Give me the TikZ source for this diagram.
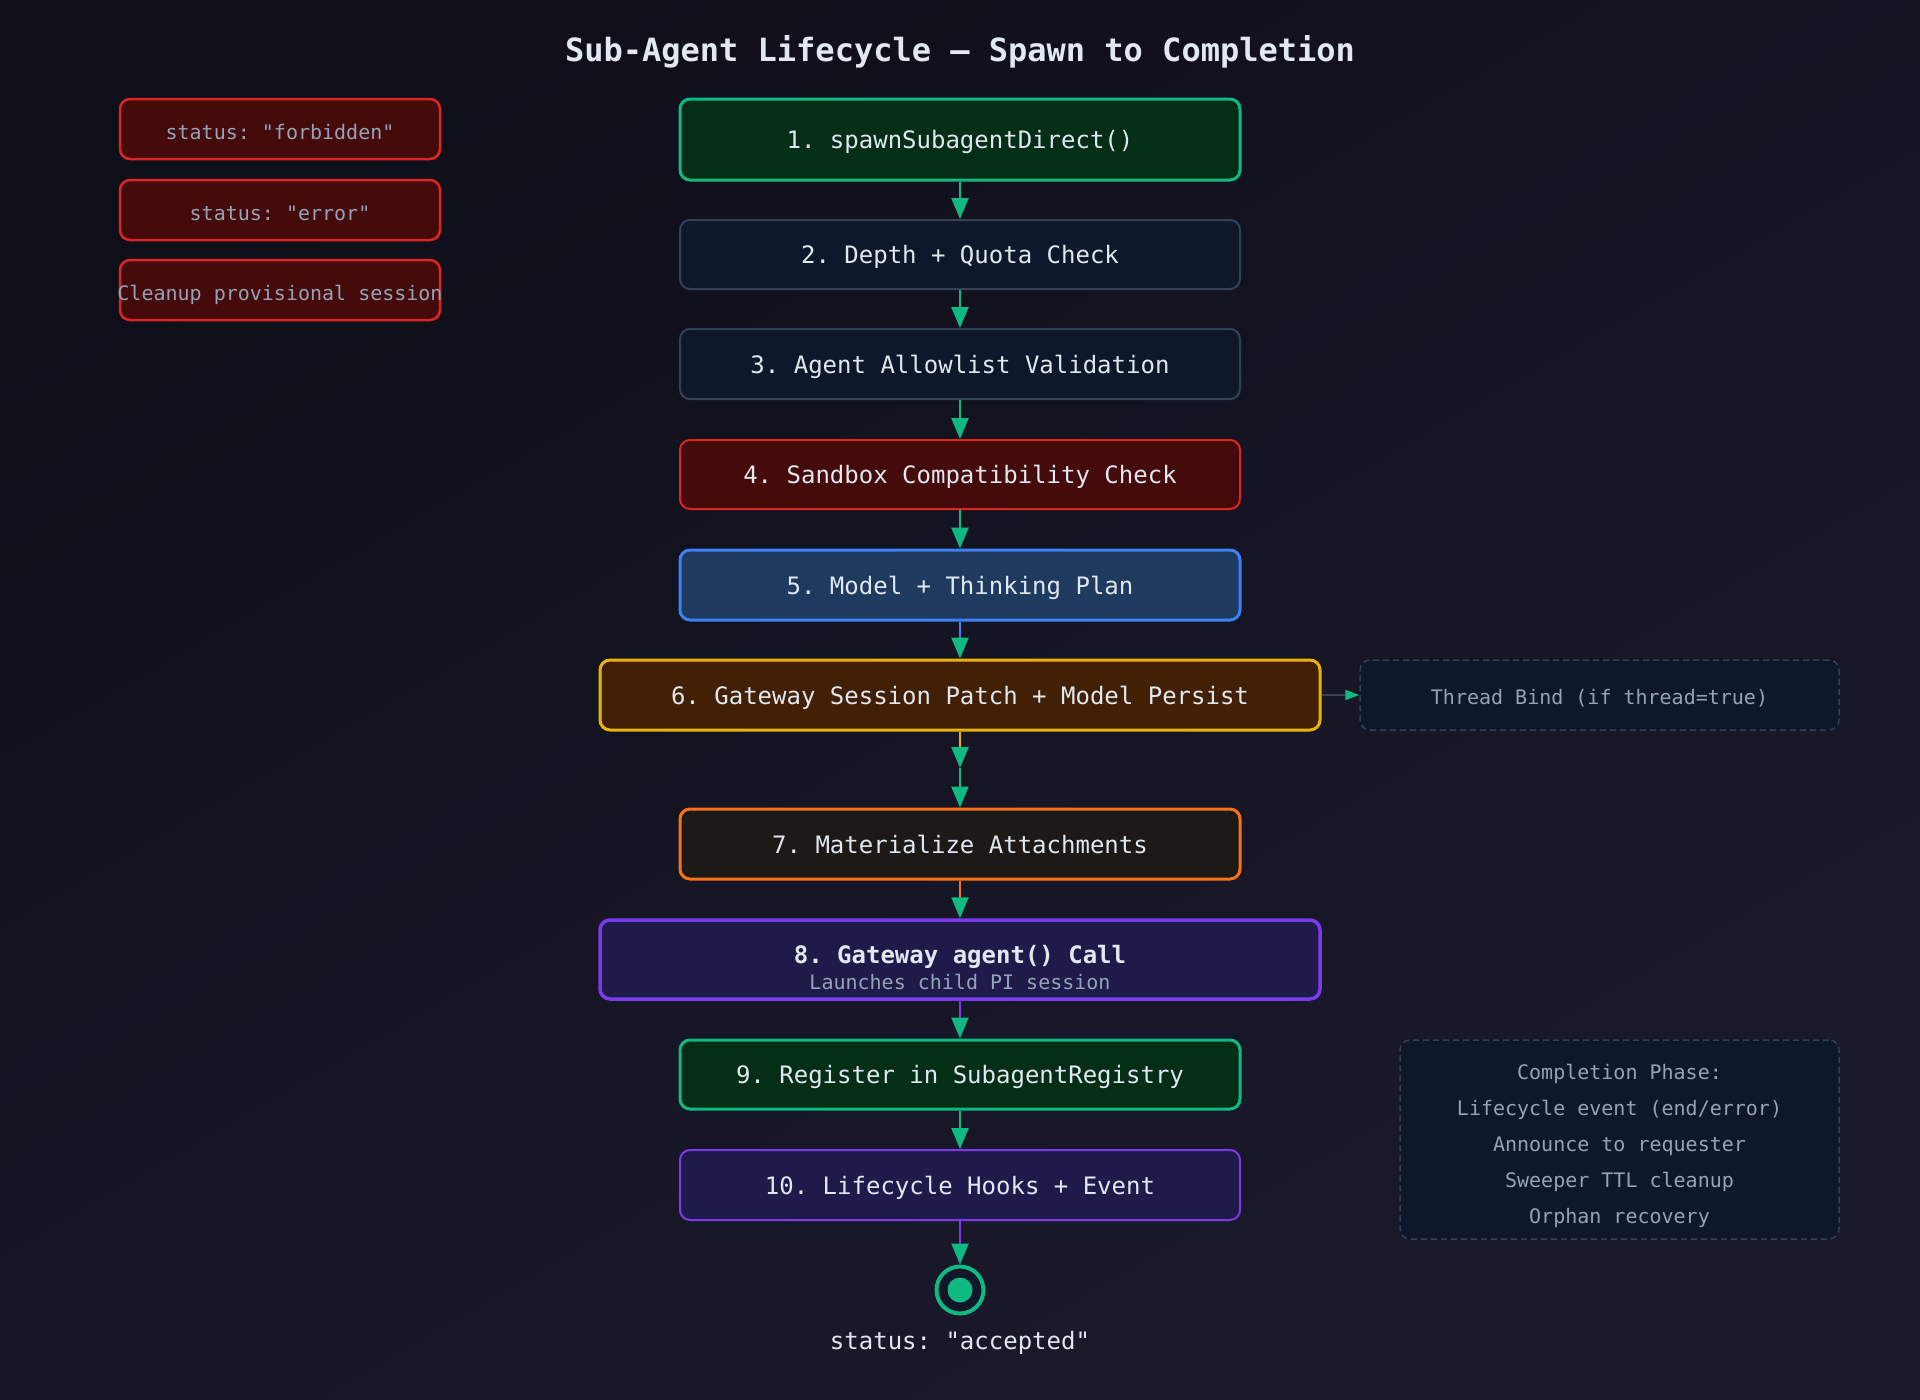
\documentclass[tikz,border=0pt]{standalone}
\usepackage{fontspec}
\setmainfont{DejaVu Sans Mono}[Ligatures=TeXOff]
\usetikzlibrary{arrows.meta}
\frenchspacing
\definecolor{bgA}{HTML}{0E0F19}
\definecolor{bgB}{HTML}{1B1A2C}
\definecolor{txt}{HTML}{E2E8F0}
\definecolor{sub}{HTML}{94A3B8}
\definecolor{agreen}{HTML}{10B981}
\definecolor{fgreen}{HTML}{052E16}
\definecolor{slate}{HTML}{334155}
\definecolor{fslate}{HTML}{0F172A}
\definecolor{ared}{HTML}{DC2626}
\definecolor{fred}{HTML}{450A0A}
\definecolor{ablue}{HTML}{3B82F6}
\definecolor{fblue}{HTML}{1E3A5F}
\definecolor{aamber}{HTML}{EAB308}
\definecolor{famber}{HTML}{422006}
\definecolor{aorange}{HTML}{F97316}
\definecolor{forange}{HTML}{1C1917}
\definecolor{apurple}{HTML}{7C3AED}
\definecolor{fpurple}{HTML}{1E1B4B}
\begin{document}
\frenchspacing
\begin{tikzpicture}[x=1pt,y=-1pt,
  box/.style={draw, rounded corners=10pt, minimum width=560pt, minimum height=70pt,
    inner sep=0pt, text=txt, font=\fontsize{24}{28}\selectfont\frenchspacing,
    text height=18pt, text depth=0pt},
  wide/.style={minimum width=720pt},
  thickb/.style={line width=3pt},
  thinb/.style={line width=2pt},
  sidebox/.style={draw=ared, fill=fred, line width=2.5pt, rounded corners=10pt,
    minimum width=320pt, minimum height=60pt, inner sep=0pt, text=sub,
    font=\fontsize{20}{24}\selectfont, text height=20pt, text depth=0pt},
  notebox/.style={draw=slate, fill=fslate, line width=1.5pt, dash pattern=on 6pt off 4pt,
    rounded corners=10pt, inner sep=0pt, text=sub, font=\fontsize{20}{24}\selectfont},
  flow/.style={line width=2.5pt, -{Triangle[length=21pt,width=17pt,color=agreen]}},
  side/.style={line width=1.5pt, draw=slate, -{Triangle[length=14pt,width=10pt,color=agreen]}}
]
\useasboundingbox (0,0) rectangle (1920,1400);
\shade[shading=axis, top color=bgA, bottom color=bgB, shading angle=30] (0,0) rectangle (1920,1400);

\node[text=txt, font=\fontsize{32}{36}\selectfont\bfseries] (title) at (960,52) {Sub-Agent Lifecycle — Spawn to Completion};

% left status boxes
\node[sidebox] (e1) at (280,129) {status: "forbidden"};
\node[sidebox] (e2) at (280,210) {status: "error"};
\node[sidebox] (e3) at (280,290) {\makebox[0pt][c]{Cleanup provisional session}};

% main flow
\node[box, thickb, draw=agreen, fill=fgreen, minimum height=81pt] (b1) at (960,139.5) {1. spawnSubagentDirect()};
\node[box, thinb, draw=slate, fill=fslate, minimum height=69pt] (b2) at (960,254.5) {2. Depth + Quota Check};
\node[box, thinb, draw=slate, fill=fslate] (b3) at (960,364) {3. Agent Allowlist Validation};
\node[box, thinb, draw=ared, fill=fred, minimum height=69pt] (b4) at (960,474.5) {4. Sandbox Compatibility Check};
\node[box, thickb, draw=ablue, fill=fblue] (b5) at (960,585) {5. Model + Thinking Plan};
\node[box, wide, thickb, draw=aamber, fill=famber] (b6) at (960,695) {6. Gateway Session Patch + Model Persist};
\coordinate (m67) at (960,768);
\node[box, thickb, draw=aorange, fill=forange] (b7) at (960,844) {7. Materialize Attachments};
\node[box, wide, line width=3.5pt, draw=apurple, fill=fpurple, minimum height=79pt] (b8) at (960,959.5) {};
\node[text=txt, font=\fontsize{24}{28}\selectfont\bfseries] (b8t) at (960,957) {8. Gateway agent() Call};
\node[text=sub, font=\fontsize{20}{24}\selectfont] (b8s) at (960,982) {Launches child PI session};
\node[box, thickb, draw=agreen, fill=fgreen, minimum height=69pt] (b9) at (960,1074.5) {9. Register in SubagentRegistry};
\node[box, thinb, draw=apurple, fill=fpurple] (b10) at (960,1185) {10. Lifecycle Hooks + Event};

\node[circle, draw=agreen, fill=fslate, line width=4pt, minimum size=47pt, inner sep=0pt] (endc) at (960,1290) {};
\node[circle, fill=agreen, minimum size=25pt, inner sep=0pt] (endd) at (endc) {};
\node[text=txt, font=\fontsize{24}{28}\selectfont] (endl) at (960,1343) {status: "accepted"};

% side notes
\node[notebox, minimum width=479pt, minimum height=70pt, text height=18pt, text depth=0pt] (tb) at (1599.5,695) {Thread Bind (if thread=true)};
\node[notebox, minimum width=439pt, minimum height=199pt] (cp) at (1619.5,1139.5) {};
\node[text=sub, font=\fontsize{20}{36}\selectfont, align=center] (cpt) at (1619.5,1146)
  {Completion Phase:\\Lifecycle event (end/error)\\Announce to requester\\Sweeper TTL cleanup\\Orphan recovery};

% connectors
\draw[flow, draw=agreen] (b1) -- (b2);
\draw[flow, draw=agreen] (b2) -- (b3);
\draw[flow, draw=agreen] (b3) -- (b4);
\draw[flow, draw=agreen] (b4) -- (b5);
\draw[flow, draw=ablue] (b5) -- (b6);
\draw[flow, draw=aamber] (b6) -- (m67);
\draw[flow, draw=agreen] (m67) -- (b7);
\draw[flow, draw=aorange] (b7) -- (b8);
\draw[flow, draw=apurple] (b8) -- (b9);
\draw[flow, draw=agreen] (b9) -- (b10);
\draw[flow, draw=apurple] (b10) -- (endc);
\draw[side] (b6) -- (tb);
\end{tikzpicture}
\end{document}
